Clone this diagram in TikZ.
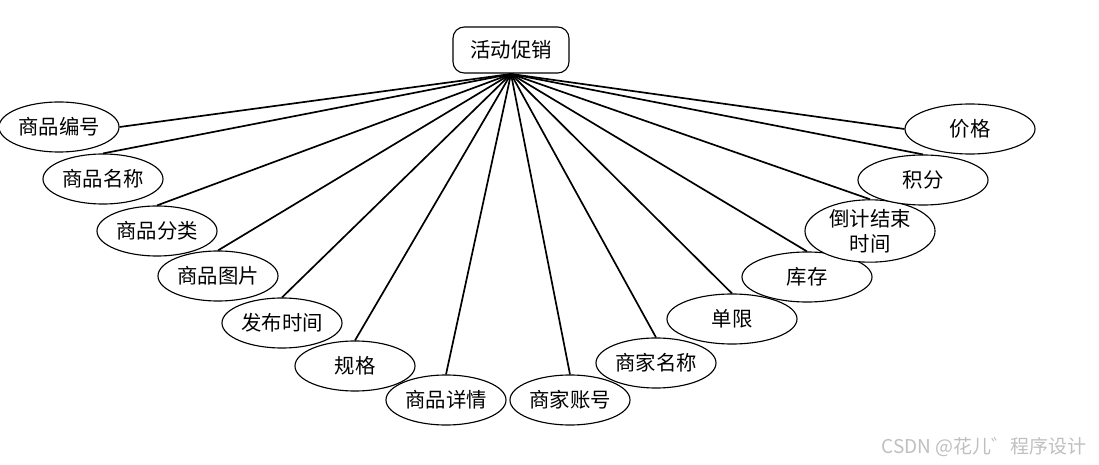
\documentclass[tikz,border=0pt]{standalone}
\usepackage{fontspec}
\newfontfamily\cjk{Noto Sans CJK SC}
\usetikzlibrary{shapes.geometric,positioning}
\tikzset{
 ent/.style
  = {rectangle, draw, fill=white, rounded corners=8pt, minimum width=2.9cm,
     minimum height=1.15cm, text centered, thick, font=\cjk\fontsize{14.5}{17}\selectfont},
 attr/.style
  = {ellipse, draw, fill=white, minimum width=3cm, minimum height=1.25cm,
     inner sep=0pt, text centered, thick, font=\cjk\fontsize{14.5}{17}\selectfont},
 attrr/.style
  = {attr, minimum width=3.25cm},
 l/.style
  = {draw, line width=1.2pt},
}

\begin{document}
\begin{tikzpicture}[x=0.025cm, y=-0.025cm]
\useasboundingbox (0,0) rectangle (1099,465);

% entity
\node[ent] (promo) at (511,50) {活动促销};
\coordinate (hub) at (511,74);

% attributes, left
\node[attr] (bh) at (59,127) {商品编号};
\node[attr] (mc) at (103,179) {商品名称};
\node[attr] (fl) at (157,231) {商品分类};
\node[attr] (tp) at (218,276) {商品图片};
\node[attr] (sj) at (282,323) {发布时间};
\node[attr] (gg) at (355,366) {规格};
\node[attr] (xq) at (446,400) {商品详情};

% attributes, right
\node[attr] (zh) at (570,400) {商家账号};
\node[attr] (sm) at (656,363) {商家名称};
\node[attrr] (dx) at (732,319) {单限};
\node[attrr] (kc) at (807,277) {库存};
\node[attrr, align=center, font=\cjk\fontsize{14.5}{18}\selectfont] (djs) at (870,231) {倒计结束\\时间};
\node[attrr] (jf) at (923,180) {积分};
\node[attrr] (jg) at (970,129) {价格};

% links
\foreach \n in {mc,fl,tp,sj,gg,xq,zh,sm,dx,kc,djs,jf}
  \draw[l] (hub) -- (\n.north);
\draw[l] (hub) -- (bh.east);
\draw[l] (hub) -- (jg.west);

% watermark
\node[text=black!25, font=\cjk\fontsize{13.5}{15}\selectfont] (wm) at (984,447) {CSDN @花儿゛程序设计};

\end{tikzpicture}
\end{document}
